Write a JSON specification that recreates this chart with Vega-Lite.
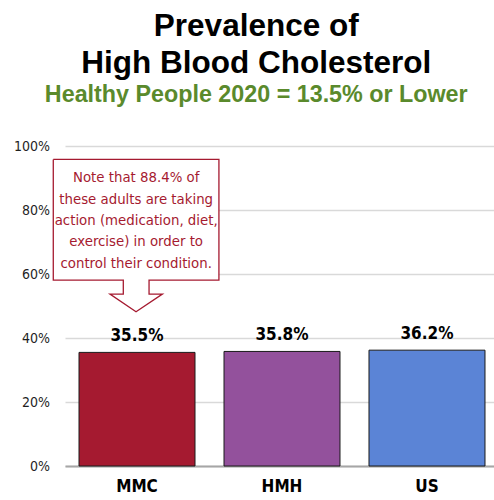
{
  "$schema": "https://vega.github.io/schema/vega-lite/v6.json",
  "width": 434,
  "height": 320,
  "padding": {"left": 13, "top": 11, "right": 0, "bottom": 0},
  "background": "white",
  "config": {"view": {"stroke": null}},
  "title": {
    "text": ["Prevalence of", "High Blood Cholesterol"],
    "subtitle": "Healthy People 2020 = 13.5% or Lower",
    "anchor": "middle",
    "frame": "bounds",
    "font": "Liberation Sans",
    "fontSize": 31.5,
    "fontWeight": "bold",
    "color": "#000000",
    "lineHeight": 37,
    "subtitleFont": "Liberation Sans",
    "subtitleFontSize": 23.3,
    "subtitleFontWeight": "bold",
    "subtitleColor": "#5A8A2C",
    "subtitlePadding": 4,
    "offset": 33
  },
  "layer": [
    {
      "data": {"values": [
        {"site": "MMC", "value": 35.5, "label": "35.5%"},
        {"site": "HMH", "value": 35.8, "label": "35.8%"},
        {"site": "US", "value": 36.2, "label": "36.2%"}
      ]},
      "encoding": {
        "x": {
          "field": "site", "type": "nominal", "sort": ["MMC", "HMH", "US"],
          "scale": {"paddingInner": 0.2, "paddingOuter": 0.0966},
          "axis": {
            "title": null, "labelAngle": 0, "ticks": false, "tickSize": 0,
            "domainColor": "#A6A6A6", "domainWidth": 2,
            "labelFont": "DejaVu Sans Condensed, Roboto, sans-serif", "labelFontSize": 17, "labelFontWeight": "bold",
            "labelColor": "#000000", "labelPadding": 12
          }
        },
        "y": {
          "field": "value", "type": "quantitative",
          "scale": {"domain": [0, 100]},
          "axis": {
            "title": null, "values": [0, 20, 40, 60, 80, 100],
            "labelExpr": "datum.value + '%'",
            "domain": false, "ticks": false, "tickSize": 0,
            "grid": true, "gridColor": "#D9D9D9", "gridWidth": 1.5,
            "labelFont": "DejaVu Sans Condensed, Roboto, sans-serif", "labelFontSize": 14,
            "labelColor": "#1f1f1f", "labelPadding": 15.5
          }
        }
      },
      "layer": [
        {
          "mark": {"type": "bar", "stroke": "#1a1a1a", "strokeWidth": 1},
          "encoding": {
            "color": {
              "field": "site", "type": "nominal",
              "scale": {"domain": ["MMC", "HMH", "US"], "range": ["#A51A30", "#93519C", "#5B84D6"]},
              "legend": null
            }
          }
        },
        {
          "mark": {"type": "text", "baseline": "alphabetic", "dy": -11,
                   "font": "DejaVu Sans Condensed, Roboto, sans-serif", "fontSize": 17, "fontWeight": "bold", "color": "#000000"},
          "encoding": {"text": {"field": "label"}}
        }
      ]
    },
    {
      "layer": [
        {
          "data": {"values": [
            {"o": 1, "u": -0.081, "v": 95.8},
            {"o": 2, "u": 1.064, "v": 95.8},
            {"o": 3, "u": 1.064, "v": 58.1},
            {"o": 4, "u": 0.581, "v": 58.1},
            {"o": 5, "u": 0.581, "v": 53.7},
            {"o": 6, "u": 0.673, "v": 53.7},
            {"o": 7, "u": 0.491, "v": 48.2},
            {"o": 8, "u": 0.311, "v": 53.7},
            {"o": 9, "u": 0.403, "v": 53.7},
            {"o": 10, "u": 0.403, "v": 58.1},
            {"o": 11, "u": -0.081, "v": 58.1},
            {"o": 12, "u": -0.081, "v": 95.8}
          ]},
          "mark": {"type": "line", "fill": "white", "stroke": "#A51A30", "strokeWidth": 1.3, "strokeJoin": "miter"},
          "encoding": {
            "x": {"field": "u", "type": "quantitative", "scale": {"domain": [0, 3], "nice": false, "zero": false}, "axis": null},
            "y": {"field": "v", "type": "quantitative"},
            "order": {"field": "o", "type": "quantitative"}
          }
        },
        {
          "data": {"values": [
            {"u": 0.492, "v": 89.9, "note": "Note that 88.4% of\nthese adults are taking\naction (medication, diet,\nexercise) in order to\ncontrol their condition."}
          ]},
          "mark": {"type": "text", "lineBreak": "\n", "lineHeight": 21.3, "align": "center", "baseline": "middle",
                   "font": "DejaVu Sans Condensed, Roboto, sans-serif", "fontSize": 14.8, "color": "#A51A30"},
          "encoding": {
            "x": {"field": "u", "type": "quantitative", "scale": {"domain": [0, 3], "nice": false, "zero": false}, "axis": null},
            "y": {"field": "v", "type": "quantitative"},
            "text": {"field": "note"}
          }
        }
      ]
    }
  ],
  "resolve": {"scale": {"x": "independent"}}
}
